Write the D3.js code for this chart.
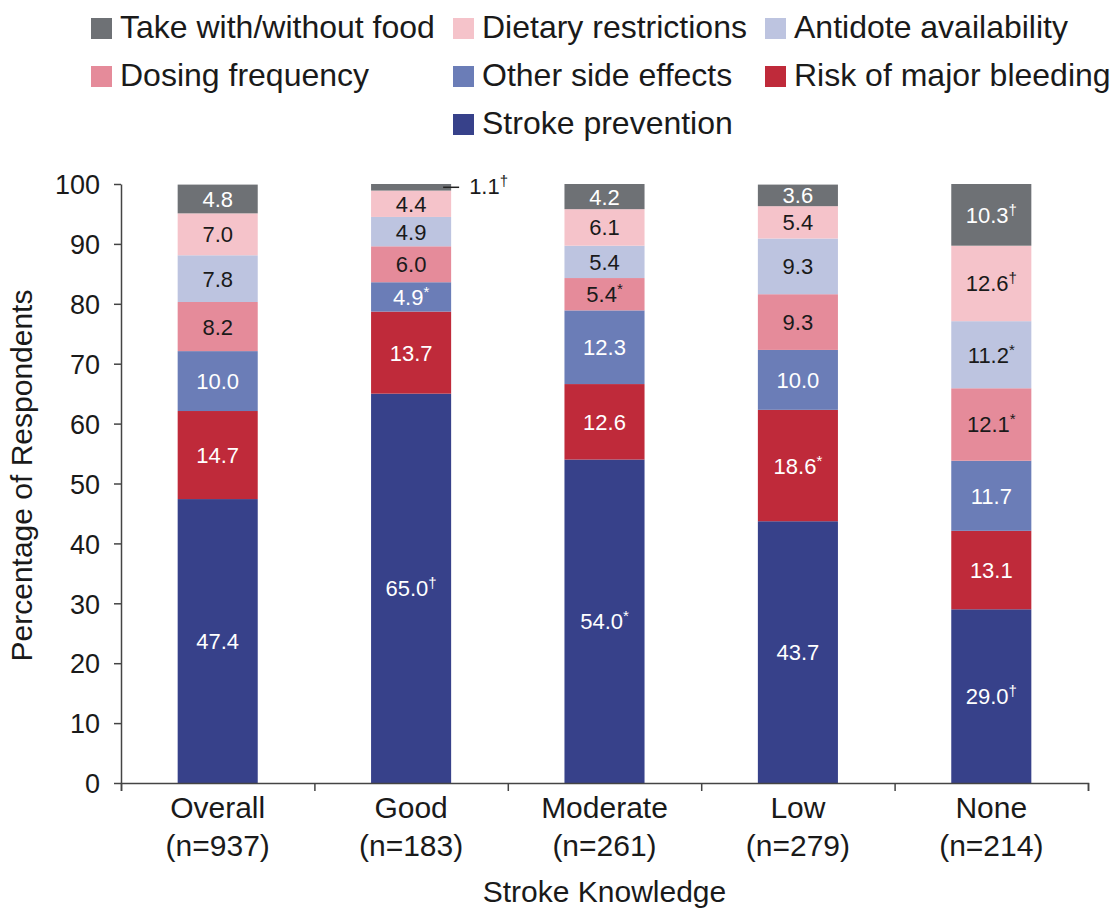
<!DOCTYPE html>
<html>
<head>
<meta charset="utf-8">
<script src="https://cdn.jsdelivr.net/npm/d3@7"></script>
<style>
  body { margin: 0; background: #fff; }
  svg { display: block; font-family: "Liberation Sans", Arial, Helvetica, sans-serif; }
</style>
</head>
<body>
<div id="chart-area"></div>
<script>
// categories (x) and their sample sizes
var categories = ["Overall", "Good", "Moderate", "Low", "None"];
var sampleSizes = ["(n=937)", "(n=183)", "(n=261)", "(n=279)", "(n=214)"];

// series values, bottom of the stack first
var strokePrevention = [47.4, 65.0, 54.0, 43.7, 29.0];
var majorBleeding = [14.7, 13.7, 12.6, 18.6, 13.1];
var otherSideEffects = [10.0, 4.9, 12.3, 10.0, 11.7];
var dosingFrequency = [8.2, 6.0, 5.4, 9.3, 12.1];
var antidoteAvailability = [7.8, 4.9, 5.4, 9.3, 11.2];
var dietaryRestrictions = [7.0, 4.4, 6.1, 5.4, 12.6];
var withWithoutFood = [4.8, 1.1, 4.2, 3.6, 10.3];

// significance marks printed after each value
var strokeMarks = ["", "\u2020", "*", "", "\u2020"];
var bleedingMarks = ["", "", "", "*", ""];
var otherMarks = ["", "*", "", "", ""];
var dosingMarks = ["", "", "*", "", "*"];
var antidoteMarks = ["", "", "", "", "*"];
var dietaryMarks = ["", "", "", "", "\u2020"];
var foodMarks = ["", "\u2020", "", "", "\u2020"];

var yTicks = [0, 10, 20, 30, 40, 50, 60, 70, 80, 90, 100];

var series = [
	{key: "stroke", name: "Stroke prevention", values: strokePrevention, marks: strokeMarks, color: "#37418a", text: "#fff"},
	{key: "bleeding", name: "Risk of major bleeding", values: majorBleeding, marks: bleedingMarks, color: "#bf2a3a", text: "#fff"},
	{key: "other", name: "Other side effects", values: otherSideEffects, marks: otherMarks, color: "#6b7db7", text: "#fff"},
	{key: "dosing", name: "Dosing frequency", values: dosingFrequency, marks: dosingMarks, color: "#e58b9a", text: "#1a1a1a"},
	{key: "antidote", name: "Antidote availability", values: antidoteAvailability, marks: antidoteMarks, color: "#bdc4e0", text: "#1a1a1a"},
	{key: "dietary", name: "Dietary restrictions", values: dietaryRestrictions, marks: dietaryMarks, color: "#f5c3ca", text: "#1a1a1a"},
	{key: "food", name: "Take with/without food", values: withWithoutFood, marks: foodMarks, color: "#6e7175", text: "#fff"}
];
var byKey = {};
series.forEach(function(s){ byKey[s.key] = s; });

// legend layout: [key, column, row]
var legendItems = [
	["food", 0, 0], ["dietary", 1, 0], ["antidote", 2, 0],
	["dosing", 0, 1], ["other", 1, 1], ["bleeding", 2, 1],
	["stroke", 1, 2]
];

var margin = {top: 184, right: 26, bottom: 130, left: 121};
var width = 1114 - margin.left - margin.right;
var height = 913 - margin.top - margin.bottom;

var svg = d3.select("#chart-area").append("svg")
	.attr("width", 1114)
	.attr("height", 913);

var g = svg.append("g")
	.attr("transform", "translate(" + margin.left + ", " + margin.top + ")");

// table for the stack
var table = categories.map(function(c, i){
	var row = {category: c};
	series.forEach(function(s){ row[s.key] = s.values[i]; });
	return row;
});

var stacked = d3.stack().keys(series.map(function(s){ return s.key; }))(table);

var x = d3.scaleBand()
	.domain(categories)
	.range([0, width])
	.paddingInner(0.586)
	.paddingOuter(0.293);

var y = d3.scaleLinear()
	.domain([0, 100])
	.range([height, 0]);

// bars
var layers = g.selectAll(".layer").data(stacked).enter()
	.append("g")
	.attr("class", "layer")
	.attr("fill", function(d){ return byKey[d.key].color; });

layers.selectAll("rect").data(function(d){ return d; }).enter()
	.append("rect")
	.attr("x", function(d){ return x(d.data.category); })
	.attr("y", function(d){ return y(d[1]); })
	.attr("width", x.bandwidth())
	.attr("height", function(d){ return y(d[0]) - y(d[1]); });

// value labels
stacked.forEach(function(layer){
	var s = byKey[layer.key];
	layer.forEach(function(d, i){
		var value = s.values[i];
		var mid = y((d[0] + d[1]) / 2);
		var cx = x(d.data.category) + x.bandwidth() / 2;
		var outside = value < 2;
		if (outside) {
			var right = x(d.data.category) + x.bandwidth();
			g.append("line")
				.attr("x1", right - 8)
				.attr("x2", right + 8)
				.attr("y1", mid)
				.attr("y2", mid)
				.attr("stroke", "#222")
				.attr("stroke-width", 1.5);
		}
		var t = g.append("text")
			.attr("x", outside ? x(d.data.category) + x.bandwidth() + 18 : cx)
			.attr("y", outside ? mid + 7 : mid + 8)
			.attr("text-anchor", outside ? "start" : "middle")
			.attr("font-size", "22px")
			.style("fill", outside ? "#1a1a1a" : s.text);
		t.append("tspan").text(value.toFixed(1));
		if (s.marks[i]) {
			t.append("tspan")
				.attr("font-size", "15px")
				.attr("dy", "-8")
				.text(s.marks[i]);
		}
	});
});

// left axis
var leftAxis = d3.axisLeft(y)
	.tickValues(yTicks)
	.tickSize(7)
	.tickSizeOuter(0)
	.tickPadding(14);

var yAxisG = g.append("g")
	.attr("class", "left axis")
	.call(leftAxis);
yAxisG.selectAll("path, line").attr("stroke", "#444").attr("stroke-width", 1.5);
yAxisG.selectAll("text")
	.attr("font-size", "27px")
	.attr("font-family", "\"Liberation Sans\", Arial, sans-serif")
	.attr("dy", "0.36em")
	.style("fill", "#1a1a1a");

// bottom axis: ticks sit on the band boundaries
var boundary = d3.scaleLinear()
	.domain([0, categories.length])
	.range([0, width]);

var xAxisG = g.append("g")
	.attr("class", "bottom axis")
	.attr("transform", "translate(0, " + height + ")")
	.call(d3.axisBottom(boundary)
		.tickValues(d3.range(categories.length + 1))
		.tickSize(8)
		.tickSizeOuter(8)
		.tickFormat(""));
xAxisG.selectAll("path, line").attr("stroke", "#444").attr("stroke-width", 1.5);

// category labels
var catLabels = g.selectAll(".cat-label").data(categories).enter()
	.append("text")
	.attr("class", "cat-label")
	.attr("text-anchor", "middle")
	.attr("font-size", "30px")
	.style("fill", "#1a1a1a");

catLabels.append("tspan")
	.attr("x", function(d){ return x(d) + x.bandwidth() / 2; })
	.attr("y", height + 35)
	.text(function(d){ return d; });

catLabels.append("tspan")
	.attr("x", function(d){ return x(d) + x.bandwidth() / 2; })
	.attr("y", height + 73)
	.text(function(d, i){ return sampleSizes[i]; });

// x label
g.append("text")
	.attr("class", "x axis-label")
	.attr("x", width / 2)
	.attr("y", height + 119)
	.attr("font-size", "30px")
	.attr("text-anchor", "middle")
	.style("fill", "#1a1a1a")
	.text("Stroke Knowledge");

// y label
g.append("text")
	.attr("class", "y axis-label")
	.attr("x", -(height / 2) + 8)
	.attr("y", -89)
	.attr("font-size", "30px")
	.attr("text-anchor", "middle")
	.attr("transform", "rotate(-90)")
	.style("fill", "#1a1a1a")
	.text("Percentage of Respondents");

// legend
var colX = [91, 453, 765];
var rowY = [18, 66, 114];

var legend = svg.selectAll(".legend-item").data(legendItems).enter()
	.append("g")
	.attr("class", "legend-item")
	.attr("transform", function(d){ return "translate(" + colX[d[1]] + ", " + rowY[d[2]] + ")"; });

legend.append("rect")
	.attr("width", 21)
	.attr("height", 21)
	.attr("fill", function(d){ return byKey[d[0]].color; });

legend.append("text")
	.attr("x", 29)
	.attr("y", 20)
	.attr("font-size", "32px")
	.style("fill", "#1a1a1a")
	.text(function(d){ return byKey[d[0]].name; });
</script>
</body>
</html>
